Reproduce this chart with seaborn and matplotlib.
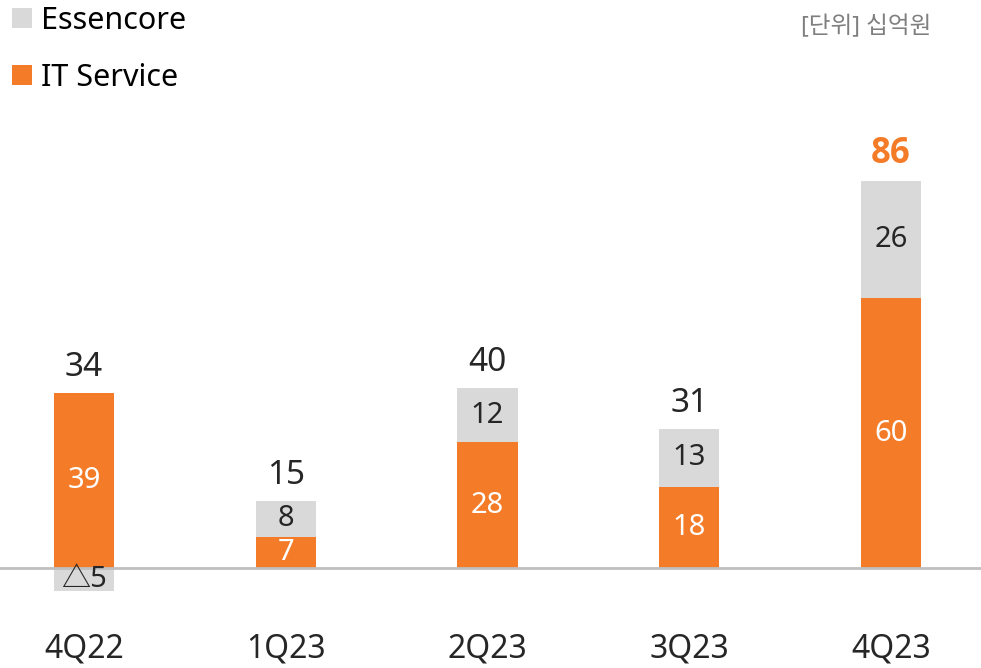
import numpy as np
import pandas as pd
import matplotlib
matplotlib.use('Agg')
import matplotlib.pyplot as plt
from matplotlib.patches import Rectangle
import seaborn as sns

# 데이터
quarters = ['4Q22', '1Q23', '2Q23', '3Q23', '4Q23']
it_service = [39, 7, 28, 18, 60]
essencore = [-5, 8, 12, 13, 26]
totals = [34, 15, 40, 31, 86]

ORANGE = '#F47B27'
GREY = '#D9D9D9'
DARK = '#262626'

sns.set_theme(style='white')
plt.rcParams['font.family'] = ['Noto Sans', 'Noto Sans CJK KR', 'DejaVu Sans']

df = pd.DataFrame({'quarter': quarters, 'it': it_service, 'ess': essencore, 'total': totals})
df['ess_bottom'] = np.where(df['ess'] < 0, 0, df['it'])
df['ess_height'] = df['ess']

W, H = 981, 668
fig = plt.figure(figsize=(W / 100, H / 100), dpi=100)
# 축 영역: 아래 58px, 위 100px
ax = fig.add_axes([0, 58 / H, 1, 510 / H])

sns.barplot(data=df, x='quarter', y='it', color=ORANGE, width=0.3,
            saturation=1, ax=ax, linewidth=0)
sns.barplot(data=df, x='quarter', y='ess_height', color=GREY, width=0.3,
            saturation=1, ax=ax, linewidth=0, bottom=df['ess_bottom'].to_numpy())

ax.set_xlim(-0.417, 4.447)
ax.set_ylim(-9.33, 104)
ax.axhline(0, color='#BFBFBF', lw=2, zorder=3)
for s in ax.spines.values():
    s.set_visible(False)
ax.set_yticks([])
ax.set_xlabel('')
ax.set_ylabel('')
ax.tick_params(axis='x', length=0, pad=16, labelsize=23, labelcolor=DARK)

# 막대 안 값
for i, row in df.iterrows():
    ax.text(i, row['it'] / 2, f"{row['it']}", ha='center', va='center',
            color='white', fontsize=21, zorder=4)
    if row['ess'] < 0:
        ax.text(i, row['ess'] / 2, f"△{abs(row['ess'])}", ha='center', va='center',
                color=DARK, fontsize=21, zorder=4)
    else:
        ax.text(i, row['it'] + row['ess'] / 2, f"{row['ess']}", ha='center', va='center',
                color=DARK, fontsize=21, zorder=4)
    top = max(row['it'], row['it'] + row['ess'])
    if i == len(df) - 1:
        ax.text(i, top + 2.0, f"{row['total']}", ha='center', va='bottom',
                color=ORANGE, fontsize=25, fontweight='bold', zorder=4,
                family=['Open Sans', 'DejaVu Sans'])
    else:
        ax.text(i, top + 2.0, f"{row['total']}", ha='center', va='bottom',
                color=DARK, fontsize=24, zorder=4)

# 범례
for yc, col, lab in [(18, GREY, 'Essencore'), (75, ORANGE, 'IT Service')]:
    fig.add_artist(Rectangle((12 / W, 1 - (yc + 10) / H), 20 / W, 20 / H,
                             transform=fig.transFigure, color=col, lw=0))
    fig.text(41 / W, 1 - (yc + 3) / H, lab, ha='left', va='center', fontsize=22, color='black')

fig.text(931 / W, 1 - 27 / H, '[단위] 십억원', ha='right', va='center',
         fontsize=17, color='#7F7F7F')

fig.savefig('out.png', dpi=100)
